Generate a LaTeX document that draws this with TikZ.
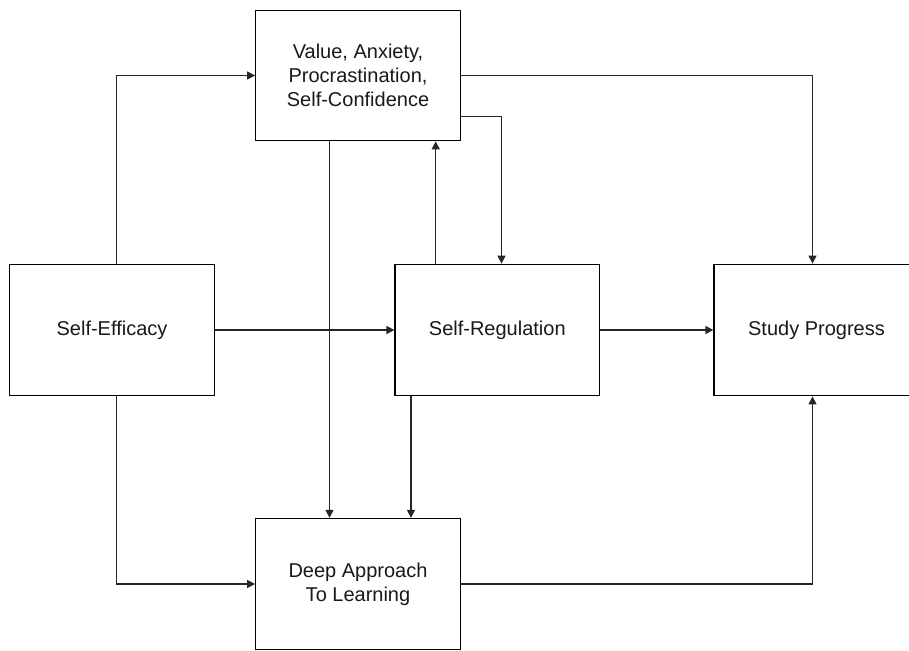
\documentclass[tikz,border=0pt]{standalone}
\usepackage{fontspec}
\setmainfont{Liberation Sans}
\usetikzlibrary{arrows.meta}
\begin{document}
\begin{tikzpicture}[x=1pt,y=-1pt,
  box/.style={draw=black,line width=1.3pt,rectangle,align=center,inner sep=0pt,
    font=\fontsize{20}{24}\selectfont,text=black!90},
  conn/.style={draw=black!85,line width=1.3pt,-{Triangle[length=8pt,width=8pt]}}]
\useasboundingbox (0,0) rectangle (909,650);
\clip (0,0) rectangle (909,650);
\fill[white] (0,0) rectangle (909,650);
\node[box,minimum width=204.5pt,minimum height=130.5pt] (top) at (358,75.5) {Value, Anxiety,\\Procrastination,\\Self-Confidence};
\node[box,minimum width=205pt,minimum height=131.5pt] (se) at (112,330) {Self-Efficacy};
\node[box,minimum width=204.5pt,minimum height=131.5pt] (sr) at (497.3,330) {Self-Regulation};
\node[box,minimum width=205pt,minimum height=131.5pt] (sp) at (816.5,330) {Study Progress};
\node[box,minimum width=204.5pt,minimum height=131pt] (dp) at (358,584) {Deep Approach\\To Learning};
\coordinate (seN) at ([xshift=4.3pt]se.north);
\coordinate (seS) at ([xshift=4.3pt]se.south);
\coordinate (topS1) at ([xshift=-28.5pt]top.south);
\coordinate (srN1) at ([xshift=-61.6pt]sr.north);
\coordinate (topE2) at ([yshift=-41.2pt]top.east);
\coordinate (srN2) at ([xshift=4.2pt]sr.north);
\coordinate (spN) at ([xshift=-4pt]sp.north);
\coordinate (spS) at ([xshift=-4pt]sp.south);
\coordinate (srS) at ([xshift=-86.3pt]sr.south);
\draw[conn] (seN) |- (top.west);
\draw[conn] (se.east) -- (sr.west);
\draw[conn] (seS) |- (dp.west);
\draw[conn] (topS1) -- (topS1 |- dp.north);
\draw[conn] (srN1) -- (srN1 |- top.south);
\draw[conn] (topE2) -| (srN2);
\draw[conn] (top.east) -| (spN);
\draw[conn] (sr.east) -- (sp.west);
\draw[conn] (srS) -- (srS |- dp.north);
\draw[conn] (dp.east) -| (spS);
\end{tikzpicture}
\end{document}
